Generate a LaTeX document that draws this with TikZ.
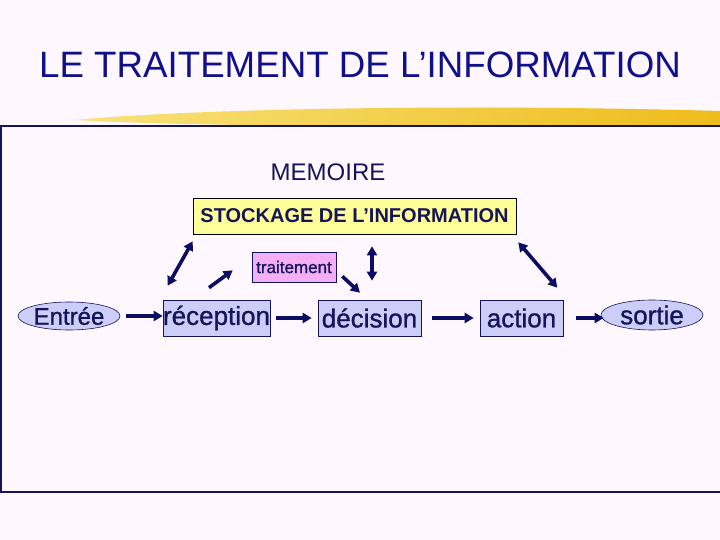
\documentclass[tikz,border=0pt]{standalone}
\usepackage{fontspec}
\setmainfont{Liberation Sans}
\newfontfamily\epais[FakeBold=1]{Liberation Sans}
\usetikzlibrary{arrows.meta,shapes.geometric}
\definecolor{fond}{HTML}{FEF8FE}
\definecolor{titrebleu}{HTML}{10108C}
\definecolor{encre}{HTML}{14145A}
\definecolor{flechebleu}{HTML}{0C0C62}
\definecolor{boitebleu}{HTML}{CCCEF8}
\definecolor{boitejaune}{HTML}{FFFF99}
\definecolor{boiterose}{HTML}{F4AEF4}
\definecolor{pinceauA}{HTML}{F8E27A}
\definecolor{pinceauB}{HTML}{EEBC1C}
\newcommand{\taille}[1]{\fontsize{#1}{#1}\selectfont}

\begin{document}
\begin{tikzpicture}[x=1pt, y=-1pt,
	boite/.style={draw=encre, line width=0.6pt, fill=boitebleu, text=encre, inner sep=0pt, minimum height=36pt, font=\epais\taille{26}},
	bulle/.style={ellipse, draw=encre, line width=0.6pt, fill=boitebleu, text=encre, inner sep=0pt, minimum width=102pt, font=\epais\taille{24}},
	fleche/.style={line width=3.6pt, flechebleu, -{Triangle[length=9pt,width=10pt]}},
	dfleche/.style={line width=3.6pt, flechebleu, {Triangle[length=9pt,width=10pt]}-{Triangle[length=9pt,width=10pt]}}]% {{{ traitement
	\fill[fond] (0,0) rectangle (720,540);
	\useasboundingbox (0,0) rectangle (720,540);

	\node[titrebleu, font=\taille{36.7}] (titre) at (360,65) {LE TRAITEMENT DE L’INFORMATION};
	\shade[left color=pinceauA, right color=pinceauB] (75,120) .. controls (200,108) and (480,104) .. (720,111) -- (720,126) .. controls (480,126) and (220,128) .. (75,120) -- cycle;
	\draw[line width=1.4pt, encre] (722,126) -- (1,126) -- (1,492) -- (722,492);

	\node[encre, font=\taille{24}] (memoire) at (328,172) {MEMOIRE};
	\node[boite, fill=boitejaune, draw=black, minimum width=323pt, font=\bfseries\taille{20}] (stock) at (354.5,216) {STOCKAGE DE L’INFORMATION};
	\node[boite, fill=boiterose, minimum width=84pt, minimum height=30pt, font=\epais\taille{17}] (trait) at (294,267) {traitement};

	\node[bulle, minimum height=28pt] (entree) at (69,316) {Entrée};
	\node[boite, minimum width=107pt] (recep) at (216.5,318) {réception};
	\node[boite, minimum width=103pt] (decis) at (369.5,318) {décision};
	\node[boite, minimum width=83pt] (action) at (521.5,318) {action};
	\node[bulle, minimum height=30pt, font=\epais\taille{26}] (sortie) at (652,315) {sortie};

	\draw[fleche, shorten <=6pt] (entree.east) -- (entree.east -| recep.west);
	\draw[fleche, shorten <=6pt, shorten >=6pt] (recep) -- (decis);
	\draw[fleche, shorten <=11pt, shorten >=6pt] (decis) -- (action);
	\draw[fleche, shorten <=13pt, shorten >=-3pt] (action.east) -- (action.east -| sortie.west);

	\draw[dfleche] ([xshift=5pt,yshift=14pt]recep.north west) -- ([yshift=-7pt]stock.south west);
	\draw[fleche] ([xshift=-7.5pt,yshift=12pt]recep.north) -- ([xshift=-19pt,yshift=12pt]trait.south west);
	\draw[fleche] ([xshift=6pt,yshift=6pt]trait.south east) -- ([xshift=-9.5pt,yshift=7pt]decis.north);
	\draw[dfleche] ([xshift=17.5pt,yshift=-12pt]stock.south) -- ([xshift=2.5pt,yshift=19pt]decis.north);
	\draw[dfleche] ([xshift=2pt,yshift=-8pt]stock.south east) -- ([xshift=-6pt,yshift=12pt]action.north east);
\end{tikzpicture}
\end{document}
